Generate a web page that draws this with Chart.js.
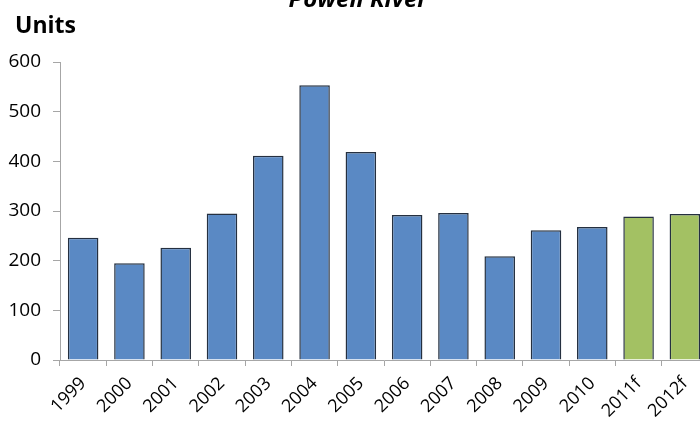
<!DOCTYPE html>
<html>
<head>
<meta charset="utf-8">
<script src="https://cdn.jsdelivr.net/npm/chart.js@4/dist/chart.umd.min.js"></script>
<style>
html,body{margin:0;padding:0;overflow:hidden;background:#fff;width:700px;height:422px;}
#wrap{position:absolute;left:0;top:0;width:724px;height:422px;}
</style>
</head>
<body>
<div id="wrap"><canvas id="c" width="724" height="422"></canvas></div>
<script>
const chartTitle = "Powell River";
const unitsLabel = "Units";
const categories = ["1999","2000","2001","2002","2003","2004","2005","2006","2007","2008","2009","2010","2011f","2012f"];
const values = [246, 195, 226, 295, 411, 553, 419, 292, 296, 209, 261, 268, 289, 294];
const forecast = [false,false,false,false,false,false,false,false,false,false,false,false,true,true];
const yTicks = [0, 100, 200, 300, 400, 500, 600];

const blue = "#5A89C4", green = "#A3C163";
const FONT = "'Open Sans', sans-serif";

const textPlugin = {
  id: "texts",
  afterDraw(chart) {
    const ctx = chart.ctx;
    ctx.save();
    ctx.fillStyle = "#000";
    ctx.textAlign = "center";
    ctx.textBaseline = "alphabetic";
    ctx.font = "italic bold 24px " + FONT;
    ctx.fillText(chartTitle, 358, 7);
    ctx.textAlign = "left";
    ctx.font = "bold 23px " + FONT;
    ctx.fillText(unitsLabel, 15, 33);
    ctx.restore();
  }
};

new Chart(document.getElementById("c"), {
  type: "bar",
  data: {
    labels: categories,
    datasets: [{
      data: values,
      backgroundColor: forecast.map(f => f ? green : blue),
      borderColor: "#253040",
      borderWidth: 1.5,
      categoryPercentage: 1,
      barPercentage: 0.66
    }]
  },
  options: {
    responsive: false,
    animation: false,
    layout: { padding: { top: 62, right: 16, bottom: 0, left: 0 } },
    plugins: { legend: { display: false }, title: { display: false }, tooltip: { enabled: false } },
    scales: {
      x: {
        grid: { display: true, drawOnChartArea: false, offset: true, color: "#A6A6A6", tickLength: 6 },
        border: { color: "#A6A6A6", width: 1 },
        ticks: { color: "#000", font: { family: FONT, size: 18 }, minRotation: 45, maxRotation: 45, padding: 7, autoSkip: false },
        afterFit(s) { s.height = 62; }
      },
      y: {
        min: 0, max: 600,
        afterBuildTicks(s) { s.ticks = yTicks.map(v => ({ value: v })); },
        grid: { display: true, drawOnChartArea: false, color: "#A6A6A6", tickLength: 7 },
        border: { color: "#A6A6A6", width: 1 },
        ticks: { color: "#000", font: { family: FONT, size: 19 }, padding: 12 },
        afterFit(s) { s.width = 60; }
      }
    }
  },
  plugins: [textPlugin]
});
</script>
</body>
</html>
